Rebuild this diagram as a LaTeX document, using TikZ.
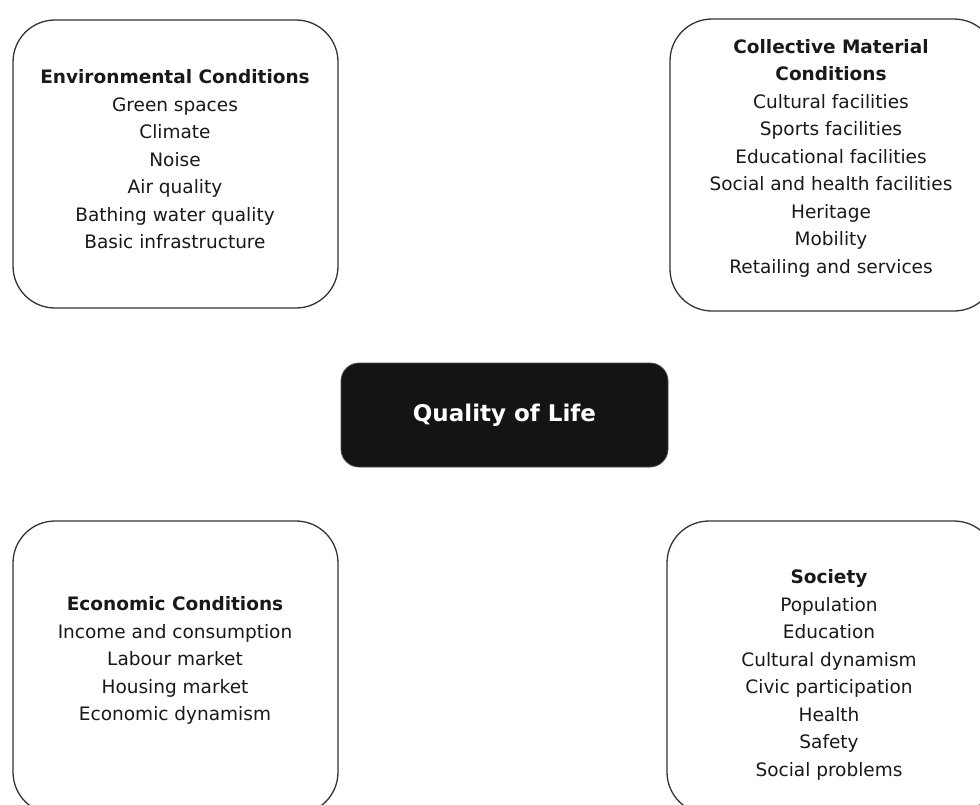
\documentclass[tikz,border=0pt]{standalone}
\usepackage{fontspec}
\setmainfont{DejaVu Sans}
\begin{document}
\begin{tikzpicture}[x=1pt,y=-1pt,
  outerbox/.style={draw=black!80, line width=1.3pt, rounded corners=42pt, fill=white},
  corebox/.style={fill=black!92, draw=black!70, line width=0.8pt, rounded corners=18pt},
  boxtext/.style={align=center, text=black!90, inner sep=0pt, font=\fontsize{18.5}{27.5}\selectfont},
  coretext/.style={text=white, inner sep=0pt, font=\fontsize{23}{27}\selectfont\bfseries}
]
\useasboundingbox (0,0) rectangle (980,804);
\clip (0,0) rectangle (980,804);

% boxes
\draw[outerbox] (13,20) rectangle (338,308);
\draw[outerbox] (670,19) rectangle (996,311);
\draw[outerbox] (13,521) rectangle (338,814);
\draw[outerbox] (667,521) rectangle (996,814);
\draw[corebox] (341,363) rectangle (668,467);

\node[coretext] (qol) at (504.5,415) {Quality of Life};

\node[boxtext] (env) at (175,159.5) {\textbf{Environmental Conditions}\\Green spaces\\Climate\\Noise\\Air quality\\Bathing water quality\\Basic infrastructure};

\node[boxtext] (cmc) at (831,158) {\textbf{Collective Material}\\\textbf{Conditions}\\Cultural facilities\\Sports facilities\\Educational facilities\\Social and health facilities\\Heritage\\Mobility\\Retailing and services};

\node[boxtext] (eco) at (175,660.5) {\textbf{Economic Conditions}\\Income and consumption\\Labour market\\Housing market\\Economic dynamism};

\node[boxtext] (soc) at (829,675) {\textbf{Society}\\Population\\Education\\Cultural dynamism\\Civic participation\\Health\\Safety\\Social problems};
\end{tikzpicture}
\end{document}
